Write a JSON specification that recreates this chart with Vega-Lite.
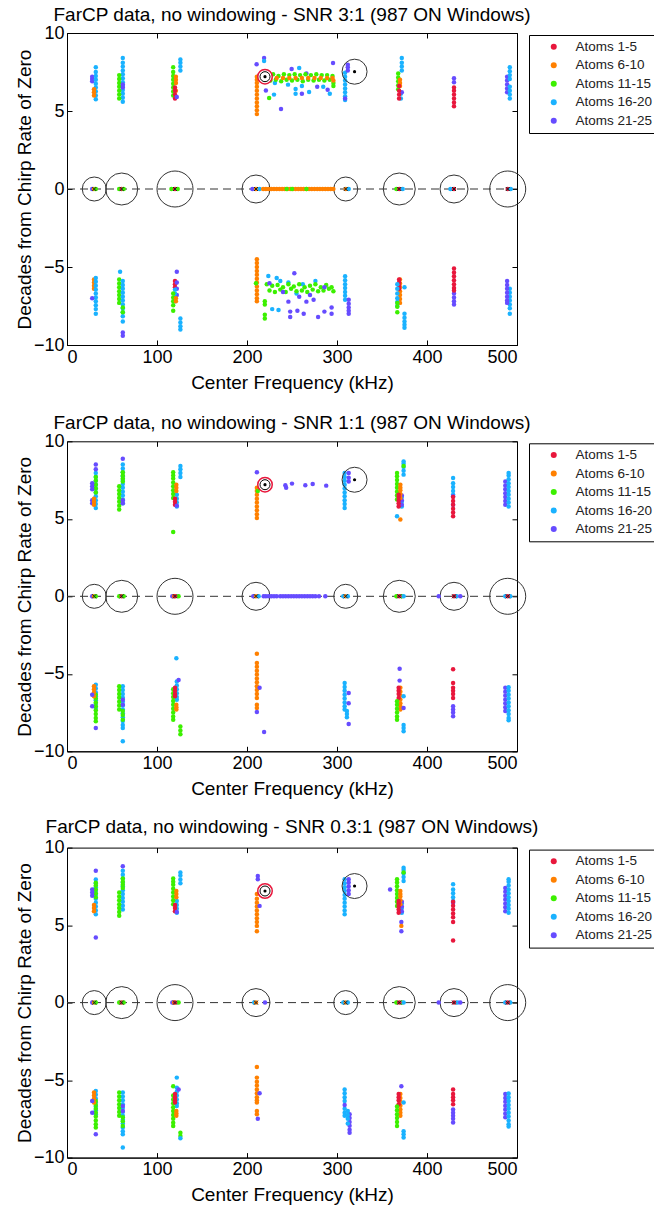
{
"$schema":"https://vega.github.io/schema/vega-lite/v6.json",
"background":"white",
"padding":{"left":14,"top":5,"right":0,"bottom":10},
"bounds":"flush",
"spacing":96.3,
"config":{
 "font":"Liberation Sans",
 "view":{"stroke":"black","strokeWidth":1},
 "axis":{"grid":false,"tickColor":"black","domainColor":"black","labelColor":"black","titleColor":"black","labelFont":"Liberation Sans","titleFont":"Liberation Sans","labelFontSize":18,"titleFontSize":19,"titleFontWeight":"normal","tickSize":-5},
 "title":{"font":"Liberation Sans","fontSize":19,"fontWeight":"normal","color":"black","frame":"group","offset":-1}
},
"datasets":{
"zc":[{"x":30.3,"n":12},{"x":60.8,"n":16},{"x":120,"n":18},{"x":210,"n":14},{"x":309.7,"n":12},{"x":369.2,"n":16},{"x":430,"n":14},{"x":489.7,"n":18}],
"xm":[{"x":30.3},{"x":60.8},{"x":120},{"x":210},{"x":309.7},{"x":369.2},{"x":430},{"x":489.7}],
"refs":[{"x":220,"y":7.2,"k":"a"},{"x":319.5,"y":7.52,"k":"b"}],
"p1":[
{"x":28,"y":6.9,"a":"21-25"},{"x":28,"y":7.05,"a":"21-25"},{"x":28,"y":7.2,"a":"21-25"},
{"x":32,"y":5.75,"a":"16-20"},{"x":32,"y":6.0,"a":"16-20"},{"x":32,"y":6.25,"a":"16-20"},{"x":32,"y":6.5,"a":"16-20"},{"x":32,"y":6.75,"a":"16-20"},{"x":32,"y":7.0,"a":"16-20"},{"x":32,"y":7.25,"a":"16-20"},{"x":32,"y":7.5,"a":"16-20"},{"x":32,"y":7.8,"a":"16-20"},
{"x":30,"y":6.0,"a":"6-10"},{"x":30,"y":6.2,"a":"6-10"},{"x":30,"y":6.4,"a":"6-10"},
{"x":28,"y":0,"a":"21-25"},{"x":30,"y":0,"a":"6-10"},{"x":32,"y":0,"a":"11-15"},
{"x":30,"y":-5.8,"a":"6-10"},{"x":30,"y":-6.0,"a":"6-10"},{"x":30,"y":-6.2,"a":"6-10"},{"x":30,"y":-6.4,"a":"6-10"},
{"x":32,"y":-5.7,"a":"16-20"},{"x":32,"y":-5.95,"a":"16-20"},{"x":32,"y":-6.2,"a":"16-20"},{"x":32,"y":-6.45,"a":"16-20"},{"x":32,"y":-6.7,"a":"16-20"},{"x":32,"y":-6.95,"a":"16-20"},{"x":32,"y":-7.2,"a":"16-20"},{"x":32,"y":-7.45,"a":"16-20"},{"x":32,"y":-7.7,"a":"16-20"},{"x":32,"y":-8.0,"a":"16-20"},
{"x":28,"y":-7.0,"a":"21-25"},
{"x":62,"y":5.6,"a":"16-20"},{"x":62,"y":5.85,"a":"16-20"},{"x":62,"y":6.1,"a":"16-20"},{"x":62,"y":6.35,"a":"16-20"},{"x":62,"y":6.6,"a":"16-20"},{"x":62,"y":6.85,"a":"16-20"},{"x":62,"y":7.1,"a":"16-20"},{"x":62,"y":7.35,"a":"16-20"},{"x":62,"y":7.6,"a":"16-20"},{"x":62,"y":7.85,"a":"16-20"},{"x":62,"y":8.1,"a":"16-20"},{"x":62,"y":8.4,"a":"16-20"},
{"x":58,"y":5.8,"a":"11-15"},{"x":58,"y":6.05,"a":"11-15"},{"x":58,"y":6.3,"a":"11-15"},{"x":58,"y":6.55,"a":"11-15"},{"x":58,"y":6.8,"a":"11-15"},{"x":58,"y":7.05,"a":"11-15"},{"x":58,"y":7.3,"a":"11-15"},
{"x":62,"y":6.5,"a":"21-25"},{"x":62,"y":6.7,"a":"21-25"},
{"x":58,"y":0,"a":"11-15"},{"x":60.8,"y":0,"a":"1-5"},{"x":63,"y":0,"a":"11-15"},
{"x":58,"y":-5.8,"a":"11-15"},{"x":58,"y":-6.05,"a":"11-15"},{"x":58,"y":-6.3,"a":"11-15"},{"x":58,"y":-6.55,"a":"11-15"},{"x":58,"y":-6.8,"a":"11-15"},{"x":58,"y":-7.05,"a":"11-15"},{"x":58,"y":-7.3,"a":"11-15"},
{"x":59,"y":-5.3,"a":"16-20"},{"x":62,"y":-5.9,"a":"16-20"},{"x":62,"y":-6.15,"a":"16-20"},{"x":62,"y":-6.4,"a":"16-20"},{"x":62,"y":-6.65,"a":"16-20"},{"x":62,"y":-6.9,"a":"16-20"},{"x":62,"y":-7.15,"a":"16-20"},{"x":62,"y":-7.4,"a":"16-20"},{"x":62,"y":-7.65,"a":"16-20"},{"x":62,"y":-7.9,"a":"16-20"},{"x":62,"y":-8.15,"a":"16-20"},{"x":62,"y":-8.5,"a":"16-20"},
{"x":62,"y":-7.6,"a":"11-15"},{"x":62,"y":-7.9,"a":"11-15"},{"x":62,"y":-9.2,"a":"21-25"},{"x":62,"y":-9.4,"a":"21-25"},
{"x":118,"y":6.0,"a":"11-15"},{"x":118,"y":6.25,"a":"11-15"},{"x":118,"y":6.5,"a":"11-15"},{"x":118,"y":6.75,"a":"11-15"},{"x":118,"y":7.0,"a":"11-15"},{"x":118,"y":7.25,"a":"11-15"},{"x":118,"y":7.5,"a":"11-15"},{"x":118,"y":7.8,"a":"11-15"},
{"x":121,"y":6.8,"a":"6-10"},{"x":121,"y":7.0,"a":"6-10"},{"x":121,"y":7.2,"a":"6-10"},{"x":121,"y":6.3,"a":"6-10"},
{"x":120,"y":5.8,"a":"1-5"},{"x":120,"y":6.05,"a":"1-5"},{"x":120,"y":6.3,"a":"1-5"},{"x":120,"y":6.5,"a":"1-5"},
{"x":126,"y":7.6,"a":"16-20"},{"x":126,"y":7.85,"a":"16-20"},{"x":126,"y":8.1,"a":"16-20"},{"x":126,"y":8.3,"a":"16-20"},{"x":122,"y":5.9,"a":"21-25"},
{"x":116,"y":0,"a":"11-15"},{"x":120,"y":0,"a":"1-5"},{"x":123,"y":0,"a":"11-15"},
{"x":120,"y":-5.9,"a":"1-5"},{"x":120,"y":-6.1,"a":"1-5"},{"x":120,"y":-6.3,"a":"1-5"},
{"x":122,"y":-5.3,"a":"21-25"},{"x":122,"y":-6.0,"a":"21-25"},{"x":122,"y":-6.4,"a":"21-25"},{"x":122,"y":-6.8,"a":"21-25"},
{"x":120,"y":-6.45,"a":"16-20"},{"x":120,"y":-6.7,"a":"16-20"},{"x":120,"y":-6.95,"a":"16-20"},{"x":120,"y":-7.2,"a":"16-20"},
{"x":118,"y":-6.7,"a":"11-15"},{"x":118,"y":-6.95,"a":"11-15"},{"x":118,"y":-7.2,"a":"11-15"},{"x":118,"y":-7.45,"a":"11-15"},{"x":118,"y":-7.8,"a":"11-15"},
{"x":121,"y":-7.0,"a":"6-10"},{"x":121,"y":-7.2,"a":"6-10"},
{"x":126,"y":-8.3,"a":"16-20"},{"x":126,"y":-8.55,"a":"16-20"},{"x":126,"y":-8.8,"a":"16-20"},{"x":126,"y":-9.0,"a":"16-20"},
{"x":211,"y":4.8,"a":"6-10"},{"x":211,"y":5.05,"a":"6-10"},{"x":211,"y":5.3,"a":"6-10"},{"x":211,"y":5.55,"a":"6-10"},{"x":211,"y":5.8,"a":"6-10"},{"x":211,"y":6.05,"a":"6-10"},{"x":211,"y":6.3,"a":"6-10"},{"x":211,"y":6.55,"a":"6-10"},{"x":211,"y":6.8,"a":"6-10"},{"x":211,"y":7.0,"a":"6-10"},{"x":211,"y":7.2,"a":"6-10"},
{"x":219,"y":8.4,"a":"21-25"},{"x":210.7,"y":8.0,"a":"21-25"},{"x":221,"y":6.32,"a":"21-25"},{"x":249.6,"y":7.69,"a":"21-25"},{"x":237.8,"y":5.13,"a":"21-25"},{"x":261,"y":6.1,"a":"21-25"},{"x":278,"y":6.55,"a":"21-25"},{"x":289.6,"y":6.36,"a":"21-25"},{"x":295.6,"y":8.08,"a":"21-25"},{"x":266,"y":7.4,"a":"21-25"},{"x":214,"y":7.3,"a":"21-25"},
{"x":219,"y":8.2,"a":"16-20"},{"x":258,"y":7.76,"a":"16-20"},{"x":245.6,"y":6.69,"a":"16-20"},{"x":254,"y":6.41,"a":"16-20"},{"x":254,"y":6.1,"a":"16-20"},{"x":261,"y":6.6,"a":"16-20"},{"x":269,"y":6.22,"a":"16-20"},{"x":230,"y":6.05,"a":"16-20"},{"x":284.7,"y":6.55,"a":"16-20"},{"x":292,"y":6.1,"a":"16-20"},{"x":231,"y":6.8,"a":"16-20"},
{"x":224.6,"y":5.83,"a":"11-15"},
{"x":223,"y":7.3,"a":"11-15"},{"x":226,"y":6.95,"a":"11-15"},{"x":229,"y":7.35,"a":"11-15"},{"x":232,"y":7.0,"a":"11-15"},{"x":235,"y":7.25,"a":"11-15"},{"x":238,"y":6.9,"a":"11-15"},{"x":241,"y":7.35,"a":"11-15"},{"x":244,"y":7.0,"a":"11-15"},{"x":247,"y":7.3,"a":"11-15"},{"x":250,"y":6.95,"a":"11-15"},{"x":253,"y":7.35,"a":"11-15"},{"x":256,"y":7.0,"a":"11-15"},{"x":259,"y":7.3,"a":"11-15"},{"x":262,"y":6.9,"a":"11-15"},{"x":265,"y":7.35,"a":"11-15"},{"x":268,"y":7.0,"a":"11-15"},{"x":271,"y":7.3,"a":"11-15"},{"x":274,"y":6.95,"a":"11-15"},{"x":277,"y":7.35,"a":"11-15"},{"x":280,"y":7.0,"a":"11-15"},{"x":283,"y":7.3,"a":"11-15"},{"x":286,"y":6.95,"a":"11-15"},{"x":289,"y":7.3,"a":"11-15"},{"x":292,"y":7.0,"a":"11-15"},{"x":295,"y":7.25,"a":"11-15"},{"x":296,"y":6.8,"a":"11-15"},{"x":296,"y":6.6,"a":"11-15"},
{"x":226,"y":7.12,"a":"6-10"},{"x":233,"y":7.12,"a":"6-10"},{"x":240,"y":7.12,"a":"6-10"},{"x":247,"y":7.12,"a":"6-10"},{"x":254,"y":7.12,"a":"6-10"},{"x":261,"y":7.12,"a":"6-10"},{"x":268,"y":7.12,"a":"6-10"},{"x":275,"y":7.12,"a":"6-10"},{"x":282,"y":7.12,"a":"6-10"},{"x":289,"y":7.12,"a":"6-10"},{"x":295,"y":7.12,"a":"6-10"},{"x":296,"y":6.95,"a":"6-10"},
{"x":206,"y":0,"a":"21-25"},{"x":210,"y":0,"a":"6-10"},{"x":214,"y":0,"a":"16-20"},
{"x":218,"y":0,"a":"6-10"},{"x":221,"y":0,"a":"6-10"},{"x":224,"y":0,"a":"6-10"},{"x":227,"y":0,"a":"6-10"},{"x":230,"y":0,"a":"6-10"},{"x":233,"y":0,"a":"6-10"},{"x":236,"y":0,"a":"6-10"},{"x":239,"y":0,"a":"6-10"},{"x":242,"y":0,"a":"6-10"},{"x":245,"y":0,"a":"6-10"},{"x":248,"y":0,"a":"6-10"},{"x":251,"y":0,"a":"6-10"},{"x":254,"y":0,"a":"6-10"},{"x":257,"y":0,"a":"6-10"},{"x":260,"y":0,"a":"6-10"},{"x":263,"y":0,"a":"6-10"},{"x":266,"y":0,"a":"6-10"},{"x":269,"y":0,"a":"6-10"},{"x":272,"y":0,"a":"6-10"},{"x":275,"y":0,"a":"6-10"},{"x":278,"y":0,"a":"6-10"},{"x":281,"y":0,"a":"6-10"},{"x":284,"y":0,"a":"6-10"},{"x":287,"y":0,"a":"6-10"},{"x":290,"y":0,"a":"6-10"},{"x":293,"y":0,"a":"6-10"},{"x":296,"y":0,"a":"6-10"},
{"x":244,"y":0,"a":"11-15"},{"x":250,"y":0,"a":"11-15"},{"x":266,"y":0,"a":"11-15"},
{"x":211,"y":-4.5,"a":"6-10"},{"x":211,"y":-4.75,"a":"6-10"},{"x":211,"y":-5.0,"a":"6-10"},{"x":211,"y":-5.25,"a":"6-10"},{"x":211,"y":-5.5,"a":"6-10"},{"x":211,"y":-5.75,"a":"6-10"},{"x":211,"y":-6.0,"a":"6-10"},{"x":211,"y":-6.25,"a":"6-10"},{"x":211,"y":-6.5,"a":"6-10"},{"x":211,"y":-6.75,"a":"6-10"},{"x":211,"y":-7.0,"a":"6-10"},{"x":211,"y":-7.2,"a":"6-10"},
{"x":210,"y":-6.04,"a":"11-15"},{"x":219.8,"y":-7.2,"a":"11-15"},{"x":219.8,"y":-7.4,"a":"11-15"},{"x":219.8,"y":-8.06,"a":"11-15"},{"x":219.8,"y":-8.3,"a":"11-15"},
{"x":223.7,"y":-5.57,"a":"16-20"},{"x":233,"y":-5.7,"a":"16-20"},{"x":237,"y":-5.9,"a":"16-20"},{"x":246,"y":-6.0,"a":"16-20"},{"x":276,"y":-5.9,"a":"16-20"},{"x":262,"y":-6.1,"a":"16-20"},{"x":228,"y":-7.7,"a":"16-20"},{"x":235,"y":-7.75,"a":"16-20"},{"x":255,"y":-6.7,"a":"16-20"},
{"x":222,"y":-6.1,"a":"11-15"},{"x":225,"y":-6.5,"a":"11-15"},{"x":228,"y":-6.2,"a":"11-15"},{"x":231,"y":-6.6,"a":"11-15"},{"x":234,"y":-6.15,"a":"11-15"},{"x":237,"y":-6.45,"a":"11-15"},{"x":240,"y":-6.3,"a":"11-15"},{"x":243,"y":-6.6,"a":"11-15"},{"x":246,"y":-6.1,"a":"11-15"},{"x":249,"y":-6.4,"a":"11-15"},{"x":252,"y":-6.25,"a":"11-15"},{"x":255,"y":-6.55,"a":"11-15"},{"x":258,"y":-6.1,"a":"11-15"},{"x":261,"y":-6.5,"a":"11-15"},{"x":264,"y":-6.3,"a":"11-15"},{"x":267,"y":-6.6,"a":"11-15"},{"x":270,"y":-6.2,"a":"11-15"},{"x":273,"y":-6.45,"a":"11-15"},{"x":276,"y":-6.1,"a":"11-15"},{"x":279,"y":-6.55,"a":"11-15"},{"x":282,"y":-6.3,"a":"11-15"},{"x":285,"y":-6.5,"a":"11-15"},{"x":288,"y":-6.15,"a":"11-15"},{"x":291,"y":-6.4,"a":"11-15"},{"x":294,"y":-6.3,"a":"11-15"},{"x":296,"y":-6.55,"a":"11-15"},
{"x":252.6,"y":-5.4,"a":"21-25"},{"x":225,"y":-6.04,"a":"21-25"},{"x":246,"y":-7.22,"a":"21-25"},{"x":258,"y":-6.9,"a":"21-25"},{"x":266,"y":-7.22,"a":"21-25"},{"x":274,"y":-7.1,"a":"21-25"},{"x":286,"y":-6.3,"a":"21-25"},{"x":248,"y":-7.86,"a":"21-25"},{"x":248,"y":-8.2,"a":"21-25"},{"x":256,"y":-7.8,"a":"21-25"},{"x":263,"y":-8.0,"a":"21-25"},{"x":279,"y":-8.2,"a":"21-25"},{"x":286,"y":-7.86,"a":"21-25"},{"x":294,"y":-7.6,"a":"21-25"},{"x":294,"y":-8.0,"a":"21-25"},{"x":240,"y":-6.6,"a":"21-25"},{"x":270,"y":-6.8,"a":"21-25"},
{"x":309,"y":5.7,"a":"16-20"},{"x":309,"y":5.95,"a":"16-20"},{"x":309,"y":6.2,"a":"16-20"},{"x":309,"y":6.45,"a":"16-20"},{"x":309,"y":6.7,"a":"16-20"},{"x":309,"y":6.95,"a":"16-20"},{"x":309,"y":7.2,"a":"16-20"},{"x":309,"y":7.45,"a":"16-20"},
{"x":312,"y":7.6,"a":"21-25"},{"x":312,"y":7.8,"a":"21-25"},{"x":312,"y":7.97,"a":"21-25"},{"x":309,"y":5.8,"a":"21-25"},
{"x":309.7,"y":0,"a":"6-10"},{"x":313,"y":0,"a":"16-20"},
{"x":309,"y":-5.6,"a":"16-20"},{"x":309,"y":-5.85,"a":"16-20"},{"x":309,"y":-6.1,"a":"16-20"},{"x":309,"y":-6.35,"a":"16-20"},{"x":309,"y":-6.6,"a":"16-20"},{"x":309,"y":-6.85,"a":"16-20"},{"x":309,"y":-7.1,"a":"16-20"},
{"x":313,"y":-7.1,"a":"21-25"},{"x":313,"y":-7.35,"a":"21-25"},{"x":313,"y":-7.6,"a":"21-25"},{"x":313,"y":-7.8,"a":"21-25"},{"x":313,"y":-8.0,"a":"21-25"},
{"x":372,"y":7.6,"a":"16-20"},{"x":372,"y":7.85,"a":"16-20"},{"x":372,"y":8.1,"a":"16-20"},{"x":372,"y":8.4,"a":"16-20"},
{"x":368,"y":6.4,"a":"11-15"},{"x":368,"y":6.65,"a":"11-15"},{"x":368,"y":6.9,"a":"11-15"},{"x":368,"y":7.15,"a":"11-15"},{"x":368,"y":7.4,"a":"11-15"},
{"x":370,"y":6.6,"a":"6-10"},{"x":370,"y":6.8,"a":"6-10"},{"x":370,"y":7.0,"a":"6-10"},
{"x":371,"y":5.8,"a":"16-20"},{"x":371,"y":6.1,"a":"16-20"},{"x":372,"y":6.2,"a":"21-25"},
{"x":369,"y":5.8,"a":"1-5"},{"x":369,"y":6.05,"a":"1-5"},{"x":369,"y":6.3,"a":"1-5"},{"x":369,"y":6.6,"a":"1-5"},
{"x":366,"y":0,"a":"11-15"},{"x":369.2,"y":0,"a":"1-5"},{"x":373,"y":0,"a":"16-20"},
{"x":370,"y":-5.8,"a":"6-10"},{"x":370,"y":-6.05,"a":"6-10"},{"x":370,"y":-6.3,"a":"6-10"},{"x":370,"y":-6.55,"a":"6-10"},{"x":370,"y":-6.8,"a":"6-10"},{"x":370,"y":-7.05,"a":"6-10"},{"x":370,"y":-7.3,"a":"6-10"},
{"x":369,"y":-5.8,"a":"1-5"},{"x":369,"y":-6.0,"a":"1-5"},{"x":369,"y":-6.2,"a":"1-5"},{"x":369,"y":-6.4,"a":"1-5"},
{"x":367,"y":-6.1,"a":"16-20"},{"x":367,"y":-6.4,"a":"16-20"},{"x":367,"y":-6.7,"a":"16-20"},{"x":367,"y":-7.0,"a":"16-20"},{"x":367,"y":-7.25,"a":"16-20"},{"x":367,"y":-7.5,"a":"16-20"},
{"x":367,"y":-7.3,"a":"11-15"},{"x":367,"y":-7.55,"a":"11-15"},{"x":367,"y":-7.9,"a":"11-15"},
{"x":375,"y":-6.3,"a":"16-20"},{"x":375,"y":-8.0,"a":"16-20"},{"x":375,"y":-8.25,"a":"16-20"},{"x":375,"y":-8.5,"a":"16-20"},{"x":375,"y":-8.7,"a":"16-20"},{"x":375,"y":-8.9,"a":"16-20"},
{"x":430,"y":7.1,"a":"21-25"},{"x":430,"y":6.85,"a":"21-25"},
{"x":430,"y":5.3,"a":"1-5"},{"x":430,"y":5.55,"a":"1-5"},{"x":430,"y":5.8,"a":"1-5"},{"x":430,"y":6.05,"a":"1-5"},{"x":430,"y":6.3,"a":"1-5"},{"x":430,"y":6.5,"a":"1-5"},
{"x":426,"y":0,"a":"16-20"},{"x":430,"y":0,"a":"1-5"},
{"x":430,"y":-6.7,"a":"21-25"},{"x":430,"y":-6.95,"a":"21-25"},{"x":430,"y":-7.2,"a":"21-25"},{"x":430,"y":-7.4,"a":"21-25"},
{"x":430,"y":-5.1,"a":"1-5"},{"x":430,"y":-5.35,"a":"1-5"},{"x":430,"y":-5.6,"a":"1-5"},{"x":430,"y":-5.85,"a":"1-5"},{"x":430,"y":-6.1,"a":"1-5"},{"x":430,"y":-6.35,"a":"1-5"},{"x":430,"y":-6.5,"a":"1-5"},
{"x":489,"y":6.2,"a":"21-25"},{"x":489,"y":6.45,"a":"21-25"},{"x":489,"y":6.7,"a":"21-25"},{"x":489,"y":6.95,"a":"21-25"},{"x":489,"y":7.2,"a":"21-25"},
{"x":492,"y":5.8,"a":"16-20"},{"x":492,"y":6.05,"a":"16-20"},{"x":492,"y":6.3,"a":"16-20"},{"x":492,"y":6.55,"a":"16-20"},{"x":492,"y":7.05,"a":"16-20"},{"x":492,"y":7.3,"a":"16-20"},{"x":492,"y":7.55,"a":"16-20"},{"x":492,"y":7.8,"a":"16-20"},
{"x":489.7,"y":0,"a":"1-5"},{"x":493,"y":0,"a":"16-20"},
{"x":492,"y":-6.4,"a":"16-20"},{"x":492,"y":-6.65,"a":"16-20"},{"x":492,"y":-6.9,"a":"16-20"},{"x":492,"y":-7.15,"a":"16-20"},{"x":492,"y":-7.4,"a":"16-20"},{"x":492,"y":-7.65,"a":"16-20"},{"x":492,"y":-8.0,"a":"16-20"},
{"x":489,"y":-5.9,"a":"21-25"},{"x":489,"y":-6.15,"a":"21-25"},{"x":489,"y":-6.4,"a":"21-25"},{"x":489,"y":-6.65,"a":"21-25"},{"x":489,"y":-6.9,"a":"21-25"},{"x":489,"y":-7.15,"a":"21-25"},{"x":489,"y":-7.3,"a":"21-25"}
],
"p2":[
{"x":32,"y":5.7,"a":"16-20"},{"x":32,"y":5.95,"a":"16-20"},{"x":32,"y":6.2,"a":"16-20"},{"x":32,"y":6.45,"a":"16-20"},{"x":32,"y":6.7,"a":"16-20"},{"x":32,"y":6.95,"a":"16-20"},{"x":32,"y":7.2,"a":"16-20"},{"x":32,"y":7.45,"a":"16-20"},{"x":32,"y":7.7,"a":"16-20"},{"x":32,"y":7.95,"a":"16-20"},
{"x":32,"y":6.7,"a":"11-15"},{"x":32,"y":6.95,"a":"11-15"},{"x":32,"y":7.2,"a":"11-15"},{"x":32,"y":7.45,"a":"11-15"},{"x":32,"y":7.7,"a":"11-15"},
{"x":32,"y":8.2,"a":"21-25"},{"x":32,"y":8.5,"a":"21-25"},{"x":28,"y":6.9,"a":"21-25"},{"x":28,"y":7.1,"a":"21-25"},{"x":28,"y":7.3,"a":"21-25"},{"x":28,"y":6.0,"a":"21-25"},{"x":28,"y":6.2,"a":"21-25"},
{"x":30,"y":5.9,"a":"6-10"},{"x":30,"y":6.1,"a":"6-10"},{"x":30,"y":6.3,"a":"6-10"},
{"x":28,"y":0,"a":"21-25"},{"x":30,"y":0,"a":"6-10"},{"x":32,"y":0,"a":"11-15"},
{"x":32,"y":-5.7,"a":"16-20"},{"x":32,"y":-5.95,"a":"16-20"},{"x":32,"y":-6.2,"a":"16-20"},{"x":32,"y":-6.45,"a":"16-20"},{"x":32,"y":-6.7,"a":"16-20"},{"x":32,"y":-6.95,"a":"16-20"},{"x":32,"y":-7.2,"a":"16-20"},
{"x":32,"y":-6.35,"a":"11-15"},{"x":32,"y":-6.6,"a":"11-15"},{"x":32,"y":-6.85,"a":"11-15"},{"x":32,"y":-7.1,"a":"11-15"},{"x":32,"y":-7.35,"a":"11-15"},{"x":32,"y":-7.6,"a":"11-15"},{"x":32,"y":-7.85,"a":"11-15"},{"x":32,"y":-8.06,"a":"11-15"},
{"x":30,"y":-5.8,"a":"6-10"},{"x":30,"y":-6.0,"a":"6-10"},{"x":30,"y":-6.2,"a":"6-10"},{"x":30,"y":-6.45,"a":"6-10"},
{"x":28,"y":-6.35,"a":"21-25"},{"x":28,"y":-7.1,"a":"21-25"},{"x":32,"y":-8.5,"a":"21-25"},
{"x":62,"y":6.0,"a":"16-20"},{"x":62,"y":6.25,"a":"16-20"},{"x":62,"y":6.5,"a":"16-20"},{"x":62,"y":6.75,"a":"16-20"},{"x":62,"y":7.0,"a":"16-20"},{"x":62,"y":7.25,"a":"16-20"},{"x":62,"y":7.5,"a":"16-20"},{"x":62,"y":7.75,"a":"16-20"},{"x":62,"y":8.0,"a":"16-20"},{"x":62,"y":8.25,"a":"16-20"},{"x":62,"y":8.5,"a":"16-20"},
{"x":58,"y":5.6,"a":"11-15"},{"x":58,"y":5.85,"a":"11-15"},{"x":58,"y":6.1,"a":"11-15"},{"x":58,"y":6.35,"a":"11-15"},{"x":58,"y":6.6,"a":"11-15"},{"x":58,"y":6.85,"a":"11-15"},{"x":58,"y":7.1,"a":"11-15"},
{"x":62,"y":7.4,"a":"11-15"},{"x":62,"y":7.6,"a":"11-15"},{"x":62,"y":7.8,"a":"11-15"},{"x":62,"y":8.0,"a":"11-15"},
{"x":62,"y":8.88,"a":"21-25"},{"x":62,"y":6.0,"a":"21-25"},{"x":62,"y":6.2,"a":"21-25"},
{"x":58,"y":0,"a":"11-15"},{"x":60.8,"y":0,"a":"1-5"},{"x":63,"y":0,"a":"11-15"},
{"x":62,"y":-5.8,"a":"16-20"},{"x":62,"y":-6.05,"a":"16-20"},{"x":62,"y":-6.3,"a":"16-20"},{"x":62,"y":-6.55,"a":"16-20"},{"x":62,"y":-6.8,"a":"16-20"},{"x":62,"y":-7.05,"a":"16-20"},{"x":62,"y":-7.3,"a":"16-20"},{"x":62,"y":-7.55,"a":"16-20"},{"x":62,"y":-7.8,"a":"16-20"},{"x":62,"y":-8.05,"a":"16-20"},{"x":62,"y":-8.3,"a":"16-20"},{"x":62,"y":-8.5,"a":"16-20"},{"x":62,"y":-9.35,"a":"16-20"},
{"x":58,"y":-5.8,"a":"11-15"},{"x":58,"y":-6.05,"a":"11-15"},{"x":58,"y":-6.3,"a":"11-15"},{"x":58,"y":-6.55,"a":"11-15"},{"x":58,"y":-6.8,"a":"11-15"},{"x":58,"y":-7.05,"a":"11-15"},{"x":58,"y":-7.3,"a":"11-15"},
{"x":62,"y":-7.4,"a":"11-15"},{"x":62,"y":-7.65,"a":"11-15"},{"x":62,"y":-7.96,"a":"11-15"},
{"x":62,"y":-6.67,"a":"21-25"},{"x":62,"y":-7.0,"a":"21-25"},
{"x":126,"y":7.7,"a":"16-20"},{"x":126,"y":7.95,"a":"16-20"},{"x":126,"y":8.2,"a":"16-20"},{"x":126,"y":8.4,"a":"16-20"},
{"x":122,"y":5.8,"a":"16-20"},{"x":122,"y":6.05,"a":"16-20"},{"x":122,"y":6.3,"a":"16-20"},{"x":122,"y":6.55,"a":"16-20"},
{"x":118,"y":6.34,"a":"11-15"},{"x":118,"y":6.6,"a":"11-15"},{"x":118,"y":6.85,"a":"11-15"},{"x":118,"y":7.1,"a":"11-15"},{"x":118,"y":7.35,"a":"11-15"},{"x":118,"y":7.6,"a":"11-15"},{"x":118,"y":7.8,"a":"11-15"},{"x":118,"y":8.0,"a":"11-15"},{"x":118,"y":4.15,"a":"11-15"},
{"x":121.5,"y":6.8,"a":"6-10"},{"x":121.5,"y":7.0,"a":"6-10"},{"x":121.5,"y":7.2,"a":"6-10"},
{"x":120,"y":5.9,"a":"1-5"},{"x":120,"y":6.1,"a":"1-5"},{"x":120,"y":6.3,"a":"1-5"},{"x":122,"y":5.85,"a":"21-25"},
{"x":117,"y":0,"a":"21-25"},{"x":119,"y":0,"a":"6-10"},{"x":124,"y":0,"a":"11-15"},{"x":120,"y":0,"a":"1-5"},
{"x":121.5,"y":-4.0,"a":"16-20"},
{"x":122,"y":-5.5,"a":"16-20"},{"x":122,"y":-5.75,"a":"16-20"},{"x":122,"y":-6.0,"a":"16-20"},{"x":122,"y":-6.25,"a":"16-20"},{"x":122,"y":-6.5,"a":"16-20"},{"x":122,"y":-6.67,"a":"16-20"},
{"x":118,"y":-6.0,"a":"11-15"},{"x":118,"y":-6.25,"a":"11-15"},{"x":118,"y":-6.5,"a":"11-15"},{"x":118,"y":-6.75,"a":"11-15"},{"x":118,"y":-7.0,"a":"11-15"},{"x":118,"y":-7.25,"a":"11-15"},{"x":118,"y":-7.5,"a":"11-15"},{"x":118,"y":-7.75,"a":"11-15"},{"x":118,"y":-7.96,"a":"11-15"},
{"x":120,"y":-5.9,"a":"1-5"},{"x":120,"y":-6.1,"a":"1-5"},{"x":120,"y":-6.3,"a":"1-5"},{"x":120,"y":-6.45,"a":"1-5"},
{"x":121.5,"y":-7.0,"a":"6-10"},{"x":121.5,"y":-7.15,"a":"6-10"},{"x":121.5,"y":-7.3,"a":"6-10"},
{"x":126,"y":-8.4,"a":"11-15"},{"x":126,"y":-8.65,"a":"11-15"},{"x":126,"y":-8.9,"a":"11-15"},{"x":124,"y":-5.4,"a":"21-25"},
{"x":211,"y":8.0,"a":"21-25"},
{"x":211,"y":5.05,"a":"6-10"},{"x":211,"y":5.3,"a":"6-10"},{"x":211,"y":5.55,"a":"6-10"},{"x":211,"y":5.8,"a":"6-10"},{"x":211,"y":6.05,"a":"6-10"},{"x":211,"y":6.3,"a":"6-10"},{"x":211,"y":6.55,"a":"6-10"},{"x":211,"y":6.8,"a":"6-10"},{"x":211,"y":7.0,"a":"6-10"},
{"x":212,"y":6.8,"a":"11-15"},
{"x":242.6,"y":7.16,"a":"21-25"},{"x":243.5,"y":7.0,"a":"21-25"},{"x":250,"y":7.27,"a":"21-25"},{"x":264.8,"y":7.16,"a":"21-25"},{"x":273,"y":7.25,"a":"21-25"},{"x":288,"y":7.14,"a":"21-25"},
{"x":207,"y":0,"a":"21-25"},{"x":210,"y":0,"a":"6-10"},{"x":213,"y":0,"a":"16-20"},
{"x":218.5,"y":0,"a":"21-25"},{"x":221,"y":0,"a":"21-25"},{"x":224,"y":0,"a":"21-25"},{"x":227,"y":0,"a":"21-25"},{"x":230,"y":0,"a":"21-25"},{"x":233,"y":0,"a":"21-25"},{"x":237,"y":0,"a":"21-25"},{"x":240,"y":0,"a":"21-25"},{"x":243,"y":0,"a":"21-25"},{"x":246,"y":0,"a":"21-25"},{"x":249,"y":0,"a":"21-25"},{"x":252,"y":0,"a":"21-25"},{"x":255,"y":0,"a":"21-25"},{"x":258,"y":0,"a":"21-25"},{"x":261,"y":0,"a":"21-25"},{"x":264,"y":0,"a":"21-25"},{"x":267,"y":0,"a":"21-25"},{"x":270,"y":0,"a":"21-25"},{"x":273,"y":0,"a":"21-25"},{"x":276,"y":0,"a":"21-25"},{"x":280,"y":0,"a":"21-25"},{"x":287,"y":0,"a":"21-25"},
{"x":211,"y":-3.7,"a":"6-10"},{"x":211,"y":-4.3,"a":"6-10"},{"x":211,"y":-4.55,"a":"6-10"},{"x":211,"y":-4.8,"a":"6-10"},{"x":211,"y":-5.05,"a":"6-10"},{"x":211,"y":-5.3,"a":"6-10"},{"x":211,"y":-5.55,"a":"6-10"},{"x":211,"y":-5.8,"a":"6-10"},{"x":211,"y":-6.05,"a":"6-10"},{"x":211,"y":-6.3,"a":"6-10"},{"x":211,"y":-6.56,"a":"6-10"},{"x":211,"y":-7.0,"a":"6-10"},{"x":211,"y":-7.2,"a":"6-10"},
{"x":214,"y":-5.9,"a":"21-25"},{"x":211,"y":-7.46,"a":"21-25"},{"x":219,"y":-8.75,"a":"21-25"},
{"x":308.5,"y":5.7,"a":"16-20"},{"x":308.5,"y":5.95,"a":"16-20"},{"x":308.5,"y":6.2,"a":"16-20"},{"x":308.5,"y":6.45,"a":"16-20"},{"x":308.5,"y":6.7,"a":"16-20"},{"x":308.5,"y":6.95,"a":"16-20"},{"x":308.5,"y":7.2,"a":"16-20"},{"x":308.5,"y":7.45,"a":"16-20"},{"x":308.5,"y":7.7,"a":"16-20"},{"x":308.5,"y":7.96,"a":"16-20"},
{"x":313,"y":7.4,"a":"21-25"},{"x":313,"y":7.65,"a":"21-25"},{"x":313,"y":7.96,"a":"21-25"},
{"x":307,"y":0,"a":"16-20"},{"x":309.7,"y":0,"a":"6-10"},{"x":312,"y":0,"a":"16-20"},
{"x":308.5,"y":-5.6,"a":"16-20"},{"x":308.5,"y":-5.85,"a":"16-20"},{"x":308.5,"y":-6.1,"a":"16-20"},{"x":308.5,"y":-6.35,"a":"16-20"},{"x":308.5,"y":-6.6,"a":"16-20"},{"x":308.5,"y":-6.85,"a":"16-20"},{"x":308.5,"y":-7.1,"a":"16-20"},{"x":308.5,"y":-7.3,"a":"16-20"},
{"x":311,"y":-7.4,"a":"16-20"},{"x":311,"y":-7.6,"a":"16-20"},{"x":311,"y":-7.8,"a":"16-20"},
{"x":313,"y":-6.24,"a":"21-25"},{"x":313,"y":-6.9,"a":"21-25"},{"x":313,"y":-8.24,"a":"21-25"},
{"x":374,"y":7.85,"a":"16-20"},{"x":374,"y":8.1,"a":"16-20"},{"x":374,"y":8.35,"a":"16-20"},{"x":374,"y":8.55,"a":"16-20"},{"x":374,"y":8.7,"a":"16-20"},{"x":374,"y":8.4,"a":"11-15"},
{"x":366.7,"y":6.24,"a":"11-15"},{"x":366.7,"y":6.5,"a":"11-15"},{"x":366.7,"y":6.75,"a":"11-15"},{"x":366.7,"y":7.0,"a":"11-15"},{"x":366.7,"y":7.25,"a":"11-15"},{"x":366.7,"y":7.5,"a":"11-15"},{"x":366.7,"y":7.75,"a":"11-15"},{"x":366.7,"y":7.96,"a":"11-15"},
{"x":372,"y":5.8,"a":"16-20"},{"x":372,"y":6.1,"a":"16-20"},{"x":372,"y":6.4,"a":"16-20"},
{"x":372,"y":5.9,"a":"21-25"},{"x":372,"y":6.2,"a":"21-25"},{"x":372,"y":6.5,"a":"21-25"},
{"x":370.4,"y":6.34,"a":"6-10"},{"x":370.4,"y":6.6,"a":"6-10"},{"x":370.4,"y":6.85,"a":"6-10"},{"x":370.4,"y":7.0,"a":"6-10"},{"x":370.4,"y":7.2,"a":"6-10"},
{"x":368.5,"y":5.8,"a":"1-5"},{"x":368.5,"y":6.0,"a":"1-5"},{"x":368.5,"y":6.2,"a":"1-5"},{"x":368.5,"y":6.4,"a":"1-5"},{"x":368.5,"y":6.56,"a":"1-5"},
{"x":366.7,"y":5.16,"a":"16-20"},{"x":370.4,"y":4.95,"a":"6-10"},
{"x":366,"y":0,"a":"11-15"},{"x":372,"y":0,"a":"11-15"},{"x":374,"y":0,"a":"16-20"},{"x":369.2,"y":0,"a":"1-5"},
{"x":369.6,"y":-4.67,"a":"21-25"},{"x":369.6,"y":-5.44,"a":"21-25"},
{"x":370.4,"y":-5.9,"a":"6-10"},{"x":370.4,"y":-6.15,"a":"6-10"},{"x":370.4,"y":-6.4,"a":"6-10"},{"x":370.4,"y":-6.65,"a":"6-10"},{"x":370.4,"y":-6.9,"a":"6-10"},{"x":370.4,"y":-7.1,"a":"6-10"},{"x":370.4,"y":-7.3,"a":"6-10"},
{"x":368.5,"y":-5.9,"a":"1-5"},{"x":368.5,"y":-6.1,"a":"1-5"},{"x":368.5,"y":-6.3,"a":"1-5"},{"x":368.5,"y":-6.56,"a":"1-5"},
{"x":366.7,"y":-6.77,"a":"11-15"},{"x":366.7,"y":-7.0,"a":"11-15"},{"x":366.7,"y":-7.25,"a":"11-15"},{"x":366.7,"y":-7.5,"a":"11-15"},{"x":366.7,"y":-7.75,"a":"11-15"},{"x":366.7,"y":-7.96,"a":"11-15"},
{"x":374,"y":-6.45,"a":"16-20"},{"x":374,"y":-8.3,"a":"16-20"},{"x":374,"y":-8.5,"a":"16-20"},{"x":374,"y":-8.7,"a":"16-20"},{"x":374,"y":-7.2,"a":"21-25"},
{"x":429,"y":6.56,"a":"16-20"},{"x":429,"y":6.8,"a":"16-20"},{"x":429,"y":7.05,"a":"16-20"},{"x":429,"y":7.3,"a":"16-20"},{"x":429,"y":7.63,"a":"16-20"},
{"x":429,"y":6.45,"a":"21-25"},{"x":429,"y":5.9,"a":"21-25"},
{"x":429,"y":5.16,"a":"1-5"},{"x":429,"y":5.4,"a":"1-5"},{"x":429,"y":5.65,"a":"1-5"},{"x":429,"y":5.9,"a":"1-5"},{"x":429,"y":6.15,"a":"1-5"},{"x":429,"y":6.4,"a":"1-5"},
{"x":413,"y":0,"a":"21-25"},{"x":433,"y":0,"a":"16-20"},{"x":437,"y":0,"a":"21-25"},{"x":430,"y":0,"a":"1-5"},
{"x":429,"y":-4.7,"a":"1-5"},{"x":429,"y":-5.6,"a":"1-5"},{"x":429,"y":-5.9,"a":"1-5"},{"x":429,"y":-6.1,"a":"1-5"},{"x":429,"y":-6.3,"a":"1-5"},{"x":429,"y":-6.56,"a":"1-5"},
{"x":429,"y":-7.1,"a":"21-25"},{"x":429,"y":-7.3,"a":"21-25"},{"x":429,"y":-7.5,"a":"21-25"},{"x":429,"y":-7.74,"a":"21-25"},
{"x":487,"y":5.9,"a":"21-25"},{"x":487,"y":6.15,"a":"21-25"},{"x":487,"y":6.4,"a":"21-25"},{"x":487,"y":6.65,"a":"21-25"},{"x":487,"y":6.9,"a":"21-25"},{"x":487,"y":7.15,"a":"21-25"},{"x":487,"y":7.4,"a":"21-25"},
{"x":490.7,"y":5.8,"a":"16-20"},{"x":490.7,"y":6.05,"a":"16-20"},{"x":490.7,"y":6.3,"a":"16-20"},{"x":490.7,"y":6.55,"a":"16-20"},{"x":490.7,"y":6.8,"a":"16-20"},{"x":490.7,"y":7.05,"a":"16-20"},{"x":490.7,"y":7.3,"a":"16-20"},{"x":490.7,"y":7.55,"a":"16-20"},{"x":490.7,"y":7.8,"a":"16-20"},{"x":490.7,"y":7.96,"a":"16-20"},
{"x":487,"y":0,"a":"16-20"},{"x":492.5,"y":0,"a":"16-20"},{"x":489.7,"y":0,"a":"1-5"},
{"x":487,"y":-5.9,"a":"21-25"},{"x":487,"y":-6.15,"a":"21-25"},{"x":487,"y":-6.4,"a":"21-25"},{"x":487,"y":-6.65,"a":"21-25"},{"x":487,"y":-6.9,"a":"21-25"},{"x":487,"y":-7.15,"a":"21-25"},{"x":487,"y":-7.4,"a":"21-25"},
{"x":490.7,"y":-5.87,"a":"16-20"},{"x":490.7,"y":-6.1,"a":"16-20"},{"x":490.7,"y":-6.35,"a":"16-20"},{"x":490.7,"y":-6.6,"a":"16-20"},{"x":490.7,"y":-6.85,"a":"16-20"},{"x":490.7,"y":-7.1,"a":"16-20"},{"x":490.7,"y":-7.35,"a":"16-20"},{"x":490.7,"y":-7.6,"a":"16-20"},{"x":490.7,"y":-7.85,"a":"16-20"},{"x":490.7,"y":-8.0,"a":"16-20"}
],
"p3":[
{"x":32,"y":5.7,"a":"16-20"},{"x":32,"y":5.95,"a":"16-20"},{"x":32,"y":6.2,"a":"16-20"},{"x":32,"y":6.45,"a":"16-20"},{"x":32,"y":6.7,"a":"16-20"},{"x":32,"y":6.95,"a":"16-20"},{"x":32,"y":7.2,"a":"16-20"},{"x":32,"y":7.45,"a":"16-20"},{"x":32,"y":7.7,"a":"16-20"},{"x":32,"y":7.95,"a":"16-20"},
{"x":32,"y":6.8,"a":"11-15"},{"x":32,"y":7.05,"a":"11-15"},{"x":32,"y":7.3,"a":"11-15"},{"x":32,"y":7.55,"a":"11-15"},{"x":32,"y":7.74,"a":"11-15"},
{"x":32,"y":8.5,"a":"21-25"},{"x":28,"y":6.9,"a":"21-25"},{"x":28,"y":7.1,"a":"21-25"},{"x":28,"y":7.3,"a":"21-25"},{"x":32,"y":4.2,"a":"21-25"},
{"x":30,"y":5.9,"a":"6-10"},{"x":30,"y":6.1,"a":"6-10"},{"x":30,"y":6.3,"a":"6-10"},
{"x":28,"y":0,"a":"21-25"},{"x":30,"y":0,"a":"6-10"},{"x":32,"y":0,"a":"11-15"},
{"x":32,"y":-5.7,"a":"16-20"},{"x":32,"y":-5.95,"a":"16-20"},{"x":32,"y":-6.2,"a":"16-20"},{"x":32,"y":-6.45,"a":"16-20"},{"x":32,"y":-6.7,"a":"16-20"},{"x":32,"y":-6.95,"a":"16-20"},{"x":32,"y":-7.2,"a":"16-20"},
{"x":32,"y":-6.35,"a":"11-15"},{"x":32,"y":-6.6,"a":"11-15"},{"x":32,"y":-6.85,"a":"11-15"},{"x":32,"y":-7.1,"a":"11-15"},{"x":32,"y":-7.35,"a":"11-15"},{"x":32,"y":-7.6,"a":"11-15"},{"x":32,"y":-7.85,"a":"11-15"},{"x":32,"y":-8.06,"a":"11-15"},
{"x":30,"y":-5.8,"a":"6-10"},{"x":30,"y":-6.0,"a":"6-10"},{"x":30,"y":-6.2,"a":"6-10"},{"x":30,"y":-6.45,"a":"6-10"},
{"x":28,"y":-6.35,"a":"21-25"},{"x":28,"y":-7.1,"a":"21-25"},{"x":32,"y":-8.5,"a":"21-25"},
{"x":62,"y":6.0,"a":"16-20"},{"x":62,"y":6.25,"a":"16-20"},{"x":62,"y":6.5,"a":"16-20"},{"x":62,"y":6.75,"a":"16-20"},{"x":62,"y":7.0,"a":"16-20"},{"x":62,"y":7.25,"a":"16-20"},{"x":62,"y":7.5,"a":"16-20"},{"x":62,"y":7.75,"a":"16-20"},{"x":62,"y":8.0,"a":"16-20"},{"x":62,"y":8.25,"a":"16-20"},{"x":62,"y":8.5,"a":"16-20"},
{"x":58,"y":5.6,"a":"11-15"},{"x":58,"y":5.85,"a":"11-15"},{"x":58,"y":6.1,"a":"11-15"},{"x":58,"y":6.35,"a":"11-15"},{"x":58,"y":6.6,"a":"11-15"},{"x":58,"y":6.85,"a":"11-15"},{"x":58,"y":7.1,"a":"11-15"},
{"x":62,"y":7.4,"a":"11-15"},{"x":62,"y":7.6,"a":"11-15"},{"x":62,"y":7.8,"a":"11-15"},{"x":62,"y":8.0,"a":"11-15"},
{"x":62,"y":8.8,"a":"21-25"},
{"x":58,"y":0,"a":"11-15"},{"x":60.8,"y":0,"a":"1-5"},{"x":63,"y":0,"a":"11-15"},
{"x":62,"y":-5.8,"a":"16-20"},{"x":62,"y":-6.05,"a":"16-20"},{"x":62,"y":-6.3,"a":"16-20"},{"x":62,"y":-6.55,"a":"16-20"},{"x":62,"y":-6.8,"a":"16-20"},{"x":62,"y":-7.05,"a":"16-20"},{"x":62,"y":-7.3,"a":"16-20"},{"x":62,"y":-7.55,"a":"16-20"},{"x":62,"y":-7.8,"a":"16-20"},{"x":62,"y":-8.05,"a":"16-20"},{"x":62,"y":-8.3,"a":"16-20"},{"x":62,"y":-8.5,"a":"16-20"},{"x":62,"y":-9.35,"a":"16-20"},
{"x":58,"y":-5.8,"a":"11-15"},{"x":58,"y":-6.05,"a":"11-15"},{"x":58,"y":-6.3,"a":"11-15"},{"x":58,"y":-6.55,"a":"11-15"},{"x":58,"y":-6.8,"a":"11-15"},{"x":58,"y":-7.05,"a":"11-15"},{"x":58,"y":-7.3,"a":"11-15"},
{"x":62,"y":-7.4,"a":"11-15"},{"x":62,"y":-7.65,"a":"11-15"},{"x":62,"y":-7.96,"a":"11-15"},
{"x":62,"y":-6.67,"a":"21-25"},{"x":62,"y":-7.0,"a":"21-25"},
{"x":126,"y":7.7,"a":"16-20"},{"x":126,"y":7.95,"a":"16-20"},{"x":126,"y":8.2,"a":"16-20"},{"x":126,"y":8.4,"a":"16-20"},
{"x":122,"y":5.8,"a":"16-20"},{"x":122,"y":6.05,"a":"16-20"},{"x":122,"y":6.3,"a":"16-20"},{"x":122,"y":6.55,"a":"16-20"},
{"x":118,"y":6.34,"a":"11-15"},{"x":118,"y":6.6,"a":"11-15"},{"x":118,"y":6.85,"a":"11-15"},{"x":118,"y":7.1,"a":"11-15"},{"x":118,"y":7.35,"a":"11-15"},{"x":118,"y":7.6,"a":"11-15"},{"x":118,"y":7.8,"a":"11-15"},{"x":118,"y":8.0,"a":"11-15"},
{"x":121.5,"y":6.8,"a":"6-10"},{"x":121.5,"y":7.0,"a":"6-10"},{"x":121.5,"y":7.2,"a":"6-10"},
{"x":120,"y":5.9,"a":"1-5"},{"x":120,"y":6.1,"a":"1-5"},{"x":120,"y":6.3,"a":"1-5"},{"x":122,"y":5.85,"a":"21-25"},
{"x":117,"y":0,"a":"21-25"},{"x":119,"y":0,"a":"6-10"},{"x":124,"y":0,"a":"11-15"},{"x":120,"y":0,"a":"1-5"},
{"x":122,"y":-4.84,"a":"16-20"},{"x":118,"y":-5.4,"a":"11-15"},
{"x":122,"y":-5.5,"a":"16-20"},{"x":122,"y":-5.75,"a":"16-20"},{"x":122,"y":-6.0,"a":"16-20"},{"x":122,"y":-6.25,"a":"16-20"},{"x":122,"y":-6.5,"a":"16-20"},{"x":122,"y":-6.67,"a":"16-20"},
{"x":118,"y":-6.0,"a":"11-15"},{"x":118,"y":-6.25,"a":"11-15"},{"x":118,"y":-6.5,"a":"11-15"},{"x":118,"y":-6.75,"a":"11-15"},{"x":118,"y":-7.0,"a":"11-15"},{"x":118,"y":-7.25,"a":"11-15"},{"x":118,"y":-7.5,"a":"11-15"},{"x":118,"y":-7.75,"a":"11-15"},{"x":118,"y":-7.96,"a":"11-15"},
{"x":120,"y":-5.9,"a":"1-5"},{"x":120,"y":-6.1,"a":"1-5"},{"x":120,"y":-6.3,"a":"1-5"},{"x":120,"y":-6.45,"a":"1-5"},
{"x":121.5,"y":-7.0,"a":"6-10"},{"x":121.5,"y":-7.15,"a":"6-10"},{"x":121.5,"y":-7.3,"a":"6-10"},
{"x":126,"y":-8.4,"a":"11-15"},{"x":126,"y":-8.6,"a":"11-15"},{"x":126,"y":-8.75,"a":"16-20"},{"x":124,"y":-5.6,"a":"21-25"},
{"x":212,"y":8.17,"a":"21-25"},{"x":212,"y":7.96,"a":"21-25"},
{"x":211,"y":4.6,"a":"6-10"},{"x":211,"y":4.95,"a":"6-10"},{"x":211,"y":5.2,"a":"6-10"},{"x":211,"y":5.45,"a":"6-10"},{"x":211,"y":5.7,"a":"6-10"},{"x":211,"y":5.95,"a":"6-10"},{"x":211,"y":6.2,"a":"6-10"},{"x":211,"y":6.45,"a":"6-10"},{"x":211,"y":6.7,"a":"6-10"},{"x":211,"y":7.0,"a":"6-10"},
{"x":214,"y":6.24,"a":"21-25"},
{"x":208,"y":0,"a":"16-20"},{"x":210,"y":0,"a":"6-10"},{"x":220,"y":0,"a":"21-25"},
{"x":211,"y":-4.15,"a":"6-10"},{"x":211,"y":-4.84,"a":"6-10"},{"x":211,"y":-5.1,"a":"6-10"},{"x":211,"y":-5.35,"a":"6-10"},{"x":211,"y":-5.6,"a":"6-10"},{"x":211,"y":-5.85,"a":"6-10"},{"x":211,"y":-6.1,"a":"6-10"},{"x":211,"y":-6.3,"a":"6-10"},{"x":211,"y":-6.45,"a":"6-10"},{"x":211,"y":-7.0,"a":"6-10"},{"x":211,"y":-7.2,"a":"6-10"},
{"x":214,"y":-5.85,"a":"21-25"},{"x":212,"y":-7.5,"a":"21-25"},
{"x":308.5,"y":5.7,"a":"16-20"},{"x":308.5,"y":5.95,"a":"16-20"},{"x":308.5,"y":6.2,"a":"16-20"},{"x":308.5,"y":6.45,"a":"16-20"},{"x":308.5,"y":6.7,"a":"16-20"},{"x":308.5,"y":6.95,"a":"16-20"},{"x":308.5,"y":7.2,"a":"16-20"},{"x":308.5,"y":7.45,"a":"16-20"},{"x":308.5,"y":7.7,"a":"16-20"},{"x":308.5,"y":7.96,"a":"16-20"},
{"x":313,"y":7.0,"a":"21-25"},{"x":313,"y":7.25,"a":"21-25"},{"x":313,"y":7.5,"a":"21-25"},{"x":313,"y":7.75,"a":"21-25"},{"x":313,"y":7.96,"a":"21-25"},
{"x":307,"y":0,"a":"16-20"},{"x":309.7,"y":0,"a":"6-10"},{"x":312,"y":0,"a":"16-20"},
{"x":308.5,"y":-5.6,"a":"16-20"},{"x":308.5,"y":-5.85,"a":"16-20"},{"x":308.5,"y":-6.1,"a":"16-20"},{"x":308.5,"y":-6.35,"a":"16-20"},{"x":308.5,"y":-6.85,"a":"16-20"},{"x":308.5,"y":-7.1,"a":"16-20"},{"x":308.5,"y":-7.3,"a":"16-20"},{"x":308.5,"y":-6.6,"a":"21-25"},
{"x":314,"y":-7.2,"a":"21-25"},{"x":314,"y":-7.45,"a":"21-25"},{"x":314,"y":-7.7,"a":"21-25"},{"x":314,"y":-7.95,"a":"21-25"},{"x":314,"y":-8.2,"a":"21-25"},{"x":314,"y":-8.4,"a":"21-25"},
{"x":312,"y":-7.0,"a":"16-20"},{"x":312,"y":-7.25,"a":"16-20"},{"x":312,"y":-7.5,"a":"16-20"},{"x":312,"y":-7.8,"a":"16-20"},
{"x":374,"y":7.85,"a":"16-20"},{"x":374,"y":8.1,"a":"16-20"},{"x":374,"y":8.35,"a":"16-20"},{"x":374,"y":8.55,"a":"16-20"},{"x":374,"y":8.7,"a":"16-20"},{"x":374,"y":8.4,"a":"11-15"},
{"x":366.7,"y":6.24,"a":"11-15"},{"x":366.7,"y":6.5,"a":"11-15"},{"x":366.7,"y":6.75,"a":"11-15"},{"x":366.7,"y":7.0,"a":"11-15"},{"x":366.7,"y":7.25,"a":"11-15"},{"x":366.7,"y":7.5,"a":"11-15"},{"x":366.7,"y":7.75,"a":"11-15"},{"x":366.7,"y":7.96,"a":"11-15"},
{"x":372,"y":5.8,"a":"16-20"},{"x":372,"y":6.1,"a":"16-20"},{"x":372,"y":6.4,"a":"16-20"},
{"x":372,"y":5.9,"a":"21-25"},{"x":372,"y":6.2,"a":"21-25"},{"x":372,"y":6.5,"a":"21-25"},{"x":359,"y":7.3,"a":"21-25"},
{"x":370.4,"y":6.34,"a":"6-10"},{"x":370.4,"y":6.6,"a":"6-10"},{"x":370.4,"y":6.85,"a":"6-10"},{"x":370.4,"y":7.0,"a":"6-10"},{"x":370.4,"y":7.2,"a":"6-10"},
{"x":368.5,"y":5.8,"a":"1-5"},{"x":368.5,"y":6.0,"a":"1-5"},{"x":368.5,"y":6.2,"a":"1-5"},{"x":368.5,"y":6.4,"a":"1-5"},{"x":368.5,"y":6.56,"a":"1-5"},
{"x":371.5,"y":5.2,"a":"21-25"},{"x":371.5,"y":4.95,"a":"6-10"},{"x":371.5,"y":4.6,"a":"21-25"},
{"x":366,"y":0,"a":"11-15"},{"x":372,"y":0,"a":"11-15"},{"x":374,"y":0,"a":"16-20"},{"x":369.2,"y":0,"a":"1-5"},
{"x":371.5,"y":-5.4,"a":"21-25"},
{"x":370.4,"y":-5.9,"a":"6-10"},{"x":370.4,"y":-6.15,"a":"6-10"},{"x":370.4,"y":-6.4,"a":"6-10"},{"x":370.4,"y":-6.65,"a":"6-10"},{"x":370.4,"y":-6.9,"a":"6-10"},{"x":370.4,"y":-7.1,"a":"6-10"},{"x":370.4,"y":-7.3,"a":"6-10"},
{"x":368.5,"y":-5.9,"a":"1-5"},{"x":368.5,"y":-6.1,"a":"1-5"},{"x":368.5,"y":-6.3,"a":"1-5"},{"x":368.5,"y":-6.56,"a":"1-5"},
{"x":366.7,"y":-6.7,"a":"11-15"},{"x":366.7,"y":-6.95,"a":"11-15"},{"x":366.7,"y":-7.2,"a":"11-15"},{"x":366.7,"y":-7.45,"a":"11-15"},{"x":366.7,"y":-7.7,"a":"11-15"},{"x":366.7,"y":-7.96,"a":"11-15"},
{"x":374,"y":-6.45,"a":"16-20"},{"x":374,"y":-8.3,"a":"16-20"},{"x":374,"y":-8.5,"a":"16-20"},{"x":374,"y":-8.7,"a":"16-20"},
{"x":429,"y":6.56,"a":"16-20"},{"x":429,"y":6.8,"a":"16-20"},{"x":429,"y":7.05,"a":"16-20"},{"x":429,"y":7.3,"a":"16-20"},{"x":429,"y":7.63,"a":"16-20"},
{"x":429,"y":6.45,"a":"21-25"},
{"x":429,"y":4.0,"a":"1-5"},{"x":429,"y":5.2,"a":"1-5"},{"x":429,"y":5.5,"a":"1-5"},{"x":429,"y":5.75,"a":"1-5"},{"x":429,"y":6.0,"a":"1-5"},{"x":429,"y":6.25,"a":"1-5"},{"x":429,"y":6.5,"a":"1-5"},
{"x":413,"y":0,"a":"21-25"},{"x":434,"y":0,"a":"16-20"},{"x":437,"y":0,"a":"21-25"},{"x":430,"y":0,"a":"1-5"},
{"x":429,"y":-6.9,"a":"21-25"},{"x":429,"y":-7.1,"a":"21-25"},{"x":429,"y":-7.3,"a":"21-25"},{"x":429,"y":-7.5,"a":"21-25"},{"x":429,"y":-7.74,"a":"21-25"},
{"x":429,"y":-5.6,"a":"1-5"},{"x":429,"y":-5.9,"a":"1-5"},{"x":429,"y":-6.1,"a":"1-5"},{"x":429,"y":-6.3,"a":"1-5"},{"x":429,"y":-6.56,"a":"1-5"},
{"x":487,"y":5.9,"a":"21-25"},{"x":487,"y":6.15,"a":"21-25"},{"x":487,"y":6.4,"a":"21-25"},{"x":487,"y":6.65,"a":"21-25"},{"x":487,"y":6.9,"a":"21-25"},{"x":487,"y":7.15,"a":"21-25"},{"x":487,"y":7.4,"a":"21-25"},
{"x":490.7,"y":5.8,"a":"16-20"},{"x":490.7,"y":6.05,"a":"16-20"},{"x":490.7,"y":6.3,"a":"16-20"},{"x":490.7,"y":6.55,"a":"16-20"},{"x":490.7,"y":6.8,"a":"16-20"},{"x":490.7,"y":7.05,"a":"16-20"},{"x":490.7,"y":7.3,"a":"16-20"},{"x":490.7,"y":7.55,"a":"16-20"},{"x":490.7,"y":7.8,"a":"16-20"},{"x":490.7,"y":7.96,"a":"16-20"},
{"x":487,"y":0,"a":"16-20"},{"x":492.5,"y":0,"a":"16-20"},{"x":489.7,"y":0,"a":"1-5"},
{"x":487,"y":-5.9,"a":"21-25"},{"x":487,"y":-6.15,"a":"21-25"},{"x":487,"y":-6.4,"a":"21-25"},{"x":487,"y":-6.65,"a":"21-25"},{"x":487,"y":-6.9,"a":"21-25"},{"x":487,"y":-7.15,"a":"21-25"},{"x":487,"y":-7.4,"a":"21-25"},
{"x":490.7,"y":-5.87,"a":"16-20"},{"x":490.7,"y":-6.1,"a":"16-20"},{"x":490.7,"y":-6.35,"a":"16-20"},{"x":490.7,"y":-6.6,"a":"16-20"},{"x":490.7,"y":-6.85,"a":"16-20"},{"x":490.7,"y":-7.1,"a":"16-20"},{"x":490.7,"y":-7.35,"a":"16-20"},{"x":490.7,"y":-7.6,"a":"16-20"},{"x":490.7,"y":-7.85,"a":"16-20"},{"x":490.7,"y":-8.0,"a":"16-20"}
]
},
"vconcat":[
{"title":{"text":"FarCP data, no windowing - SNR 3:1 (987 ON Windows)"},"width":450,"height":312,
 "layer":[
  {"layer":[
   {"data":{"values":[{}]},"mark":{"type":"rule","strokeDash":[8,5],"color":"#333","strokeWidth":1},"encoding":{"y":{"datum":0,"type":"quantitative","scale":{"domain":[-10,10],"nice":false},"axis":{"values":[-10,-5,0,5,10],"title":"Decades from Chirp Rate of Zero","labelPadding":8,"titlePadding":-1}}}},
   {"data":{"name":"zc"},"mark":{"type":"point","shape":"circle","filled":false,"color":"#333","strokeWidth":1,"opacity":1},"encoding":{"x":{"field":"x","type":"quantitative","scale":{"domain":[0,500],"nice":false},"axis":{"values":[0,100,200,300,400,500],"title":"Center Frequency (kHz)","labelPadding":8,"titlePadding":7}},"y":{"datum":0,"type":"quantitative"},"size":{"field":"n","type":"quantitative","scale":{"type":"pow","exponent":2,"domain":[0,20],"range":[0,1600]},"legend":null}}},
   {"data":{"name":"p1"},"mark":{"type":"circle","size":20,"opacity":1},"encoding":{"x":{"field":"x","type":"quantitative"},"y":{"field":"y","type":"quantitative"},"color":{"field":"a","type":"nominal","scale":{"domain":["1-5","6-10","11-15","16-20","21-25"],"range":["#e8173c","#ff8000","#3cf000","#1ab2ff","#664cff"]},"legend":{"orient":"none","legendX":462,"legendY":2,"title":null,"labelExpr":"'Atoms ' + datum.label","strokeColor":"black","fillColor":"white","padding":5,"symbolType":"circle","symbolSize":36,"symbolStrokeWidth":0,"symbolOffset":13,"labelOffset":15,"labelFontSize":13.5,"labelFont":"Liberation Sans","labelColor":"#222","rowPadding":3.5}}}},
   {"data":{"name":"xm"},"mark":{"type":"point","shape":"M-1,-1L1,1M-1,1L1,-1","size":16,"color":"#222","strokeWidth":1,"filled":false,"opacity":1},"encoding":{"x":{"field":"x","type":"quantitative"},"y":{"datum":0,"type":"quantitative"}}},
   {"data":{"name":"refs"},"transform":[{"filter":"datum.k == 'a'"}],"mark":{"type":"point","shape":"circle","filled":true,"fill":"white","stroke":"#e8173c","strokeWidth":1.5,"size":210,"opacity":1},"encoding":{"x":{"field":"x","type":"quantitative"},"y":{"field":"y","type":"quantitative"}}},
   {"data":{"name":"refs"},"transform":[{"filter":"datum.k == 'a'"}],"mark":{"type":"point","shape":"circle","filled":false,"stroke":"black","strokeWidth":1,"size":100,"opacity":1},"encoding":{"x":{"field":"x","type":"quantitative"},"y":{"field":"y","type":"quantitative"}}},
   {"data":{"name":"refs"},"transform":[{"filter":"datum.k == 'b'"}],"mark":{"type":"point","shape":"circle","filled":false,"stroke":"#333","strokeWidth":1,"size":625,"opacity":1},"encoding":{"x":{"field":"x","type":"quantitative"},"y":{"field":"y","type":"quantitative"}}},
   {"data":{"name":"refs"},"mark":{"type":"circle","color":"black","size":10,"opacity":1},"encoding":{"x":{"field":"x","type":"quantitative"},"y":{"field":"y","type":"quantitative"}}}
  ]},
  {"data":{"name":"refs"},"mark":{"type":"point","opacity":0},"encoding":{"x":{"field":"x","type":"quantitative","scale":{"domain":[0,500],"nice":false},"axis":{"orient":"top","values":[0,100,200,300,400,500],"labels":false,"title":null,"domain":false}},"y":{"field":"y","type":"quantitative","scale":{"domain":[-10,10],"nice":false},"axis":{"orient":"right","values":[-10,-5,0,5,10],"labels":false,"title":null,"domain":false}}}}
 ],
 "resolve":{"axis":{"x":"independent","y":"independent"}}
},
{"title":{"text":"FarCP data, no windowing - SNR 1:1 (987 ON Windows)"},"width":450,"height":310,
 "layer":[
  {"layer":[
   {"data":{"values":[{}]},"mark":{"type":"rule","strokeDash":[8,5],"color":"#333","strokeWidth":1},"encoding":{"y":{"datum":0,"type":"quantitative","scale":{"domain":[-10,10],"nice":false},"axis":{"values":[-10,-5,0,5,10],"title":"Decades from Chirp Rate of Zero","labelPadding":8,"titlePadding":-1}}}},
   {"data":{"name":"zc"},"mark":{"type":"point","shape":"circle","filled":false,"color":"#333","strokeWidth":1,"opacity":1},"encoding":{"x":{"field":"x","type":"quantitative","scale":{"domain":[0,500],"nice":false},"axis":{"values":[0,100,200,300,400,500],"title":"Center Frequency (kHz)","labelPadding":8,"titlePadding":7}},"y":{"datum":0,"type":"quantitative"},"size":{"field":"n","type":"quantitative","scale":{"type":"pow","exponent":2,"domain":[0,20],"range":[0,1600]},"legend":null}}},
   {"data":{"name":"p2"},"mark":{"type":"circle","size":20,"opacity":1},"encoding":{"x":{"field":"x","type":"quantitative"},"y":{"field":"y","type":"quantitative"},"color":{"field":"a","type":"nominal","scale":{"domain":["1-5","6-10","11-15","16-20","21-25"],"range":["#e8173c","#ff8000","#3cf000","#1ab2ff","#664cff"]},"legend":{"orient":"none","legendX":462,"legendY":2,"title":null,"labelExpr":"'Atoms ' + datum.label","strokeColor":"black","fillColor":"white","padding":5,"symbolType":"circle","symbolSize":36,"symbolStrokeWidth":0,"symbolOffset":13,"labelOffset":15,"labelFontSize":13.5,"labelFont":"Liberation Sans","labelColor":"#222","rowPadding":3.5}}}},
   {"data":{"name":"xm"},"mark":{"type":"point","shape":"M-1,-1L1,1M-1,1L1,-1","size":16,"color":"#222","strokeWidth":1,"filled":false,"opacity":1},"encoding":{"x":{"field":"x","type":"quantitative"},"y":{"datum":0,"type":"quantitative"}}},
   {"data":{"name":"refs"},"transform":[{"filter":"datum.k == 'a'"}],"mark":{"type":"point","shape":"circle","filled":true,"fill":"white","stroke":"#e8173c","strokeWidth":1.5,"size":210,"opacity":1},"encoding":{"x":{"field":"x","type":"quantitative"},"y":{"field":"y","type":"quantitative"}}},
   {"data":{"name":"refs"},"transform":[{"filter":"datum.k == 'a'"}],"mark":{"type":"point","shape":"circle","filled":false,"stroke":"black","strokeWidth":1,"size":100,"opacity":1},"encoding":{"x":{"field":"x","type":"quantitative"},"y":{"field":"y","type":"quantitative"}}},
   {"data":{"name":"refs"},"transform":[{"filter":"datum.k == 'b'"}],"mark":{"type":"point","shape":"circle","filled":false,"stroke":"#333","strokeWidth":1,"size":625,"opacity":1},"encoding":{"x":{"field":"x","type":"quantitative"},"y":{"field":"y","type":"quantitative"}}},
   {"data":{"name":"refs"},"mark":{"type":"circle","color":"black","size":10,"opacity":1},"encoding":{"x":{"field":"x","type":"quantitative"},"y":{"field":"y","type":"quantitative"}}}
  ]},
  {"data":{"name":"refs"},"mark":{"type":"point","opacity":0},"encoding":{"x":{"field":"x","type":"quantitative","scale":{"domain":[0,500],"nice":false},"axis":{"orient":"top","values":[0,100,200,300,400,500],"labels":false,"title":null,"domain":false}},"y":{"field":"y","type":"quantitative","scale":{"domain":[-10,10],"nice":false},"axis":{"orient":"right","values":[-10,-5,0,5,10],"labels":false,"title":null,"domain":false}}}}
 ],
 "resolve":{"axis":{"x":"independent","y":"independent"}}
},
{"title":{"text":"FarCP data, no windowing - SNR 0.3:1 (987 ON Windows)","offset":2},"width":450,"height":310,
 "layer":[
  {"layer":[
   {"data":{"values":[{}]},"mark":{"type":"rule","strokeDash":[8,5],"color":"#333","strokeWidth":1},"encoding":{"y":{"datum":0,"type":"quantitative","scale":{"domain":[-10,10],"nice":false},"axis":{"values":[-10,-5,0,5,10],"title":"Decades from Chirp Rate of Zero","labelPadding":8,"titlePadding":-1}}}},
   {"data":{"name":"zc"},"mark":{"type":"point","shape":"circle","filled":false,"color":"#333","strokeWidth":1,"opacity":1},"encoding":{"x":{"field":"x","type":"quantitative","scale":{"domain":[0,500],"nice":false},"axis":{"values":[0,100,200,300,400,500],"title":"Center Frequency (kHz)","labelPadding":8,"titlePadding":7}},"y":{"datum":0,"type":"quantitative"},"size":{"field":"n","type":"quantitative","scale":{"type":"pow","exponent":2,"domain":[0,20],"range":[0,1600]},"legend":null}}},
   {"data":{"name":"p3"},"mark":{"type":"circle","size":20,"opacity":1},"encoding":{"x":{"field":"x","type":"quantitative"},"y":{"field":"y","type":"quantitative"},"color":{"field":"a","type":"nominal","scale":{"domain":["1-5","6-10","11-15","16-20","21-25"],"range":["#e8173c","#ff8000","#3cf000","#1ab2ff","#664cff"]},"legend":{"orient":"none","legendX":462,"legendY":2,"title":null,"labelExpr":"'Atoms ' + datum.label","strokeColor":"black","fillColor":"white","padding":5,"symbolType":"circle","symbolSize":36,"symbolStrokeWidth":0,"symbolOffset":13,"labelOffset":15,"labelFontSize":13.5,"labelFont":"Liberation Sans","labelColor":"#222","rowPadding":3.5}}}},
   {"data":{"name":"xm"},"mark":{"type":"point","shape":"M-1,-1L1,1M-1,1L1,-1","size":16,"color":"#222","strokeWidth":1,"filled":false,"opacity":1},"encoding":{"x":{"field":"x","type":"quantitative"},"y":{"datum":0,"type":"quantitative"}}},
   {"data":{"name":"refs"},"transform":[{"filter":"datum.k == 'a'"}],"mark":{"type":"point","shape":"circle","filled":true,"fill":"white","stroke":"#e8173c","strokeWidth":1.5,"size":210,"opacity":1},"encoding":{"x":{"field":"x","type":"quantitative"},"y":{"field":"y","type":"quantitative"}}},
   {"data":{"name":"refs"},"transform":[{"filter":"datum.k == 'a'"}],"mark":{"type":"point","shape":"circle","filled":false,"stroke":"black","strokeWidth":1,"size":100,"opacity":1},"encoding":{"x":{"field":"x","type":"quantitative"},"y":{"field":"y","type":"quantitative"}}},
   {"data":{"name":"refs"},"transform":[{"filter":"datum.k == 'b'"}],"mark":{"type":"point","shape":"circle","filled":false,"stroke":"#333","strokeWidth":1,"size":625,"opacity":1},"encoding":{"x":{"field":"x","type":"quantitative"},"y":{"field":"y","type":"quantitative"}}},
   {"data":{"name":"refs"},"mark":{"type":"circle","color":"black","size":10,"opacity":1},"encoding":{"x":{"field":"x","type":"quantitative"},"y":{"field":"y","type":"quantitative"}}}
  ]},
  {"data":{"name":"refs"},"mark":{"type":"point","opacity":0},"encoding":{"x":{"field":"x","type":"quantitative","scale":{"domain":[0,500],"nice":false},"axis":{"orient":"top","values":[0,100,200,300,400,500],"labels":false,"title":null,"domain":false}},"y":{"field":"y","type":"quantitative","scale":{"domain":[-10,10],"nice":false},"axis":{"orient":"right","values":[-10,-5,0,5,10],"labels":false,"title":null,"domain":false}}}}
 ],
 "resolve":{"axis":{"x":"independent","y":"independent"}}
}
],
"resolve":{"scale":{"color":"independent"},"legend":{"color":"independent"}}
}
